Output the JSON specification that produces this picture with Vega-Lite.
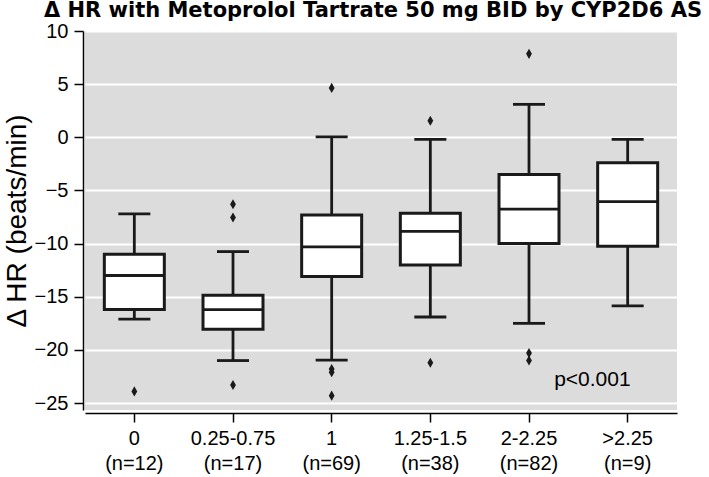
{
  "$schema": "https://vega.github.io/schema/vega-lite/v6.json",
  "autosize": "none",
  "width": 592,
  "height": 379,
  "padding": {"left": 85, "top": 31, "right": 32, "bottom": 67},
  "background": "white",
  "config": {
    "font": "Liberation Sans",
    "view": {"fill": "#dcdcdc", "stroke": null}
  },
  "title": {
    "text": "Δ HR with Metoprolol Tartrate 50 mg BID by CYP2D6 AS",
    "font": "DejaVu Sans",
    "fontSize": 21,
    "fontWeight": "bold",
    "color": "#000000",
    "anchor": "middle",
    "dx": -8,
    "dy": 4,
    "offset": 4
  },
  "datasets": {
    "boxes": [
      {"group": "0 (n=12)", "lower": -17.1, "q1": -16.2, "median": -13.0, "q3": -11.0, "upper": -7.2},
      {"group": "0.25-0.75 (n=17)", "lower": -21.0, "q1": -18.05, "median": -16.2, "q3": -14.85, "upper": -10.75},
      {"group": "1 (n=69)", "lower": -20.95, "q1": -13.1, "median": -10.3, "q3": -7.3, "upper": 0.05},
      {"group": "1.25-1.5 (n=38)", "lower": -16.9, "q1": -12.0, "median": -8.85, "q3": -7.15, "upper": -0.2},
      {"group": "2-2.25 (n=82)", "lower": -17.5, "q1": -10.0, "median": -6.75, "q3": -3.5, "upper": 3.1},
      {"group": ">2.25 (n=9)", "lower": -15.85, "q1": -10.25, "median": -6.05, "q3": -2.4, "upper": -0.2}
    ],
    "outliers": [
      {"group": "0 (n=12)", "value": -23.9},
      {"group": "0.25-0.75 (n=17)", "value": -6.3},
      {"group": "0.25-0.75 (n=17)", "value": -7.55},
      {"group": "0.25-0.75 (n=17)", "value": -23.3},
      {"group": "1 (n=69)", "value": 4.65},
      {"group": "1 (n=69)", "value": -21.8},
      {"group": "1 (n=69)", "value": -22.1},
      {"group": "1 (n=69)", "value": -24.3},
      {"group": "1.25-1.5 (n=38)", "value": 1.55},
      {"group": "1.25-1.5 (n=38)", "value": -21.2},
      {"group": "2-2.25 (n=82)", "value": 7.85},
      {"group": "2-2.25 (n=82)", "value": -20.3},
      {"group": "2-2.25 (n=82)", "value": -21.0}
    ],
    "annot": [
      {"group": ">2.25 (n=9)", "value": -22.83, "label": "p<0.001"}
    ]
  },
  "encoding": {
    "x": {
      "field": "group",
      "type": "nominal",
      "sort": ["0 (n=12)", "0.25-0.75 (n=17)", "1 (n=69)", "1.25-1.5 (n=38)", "2-2.25 (n=82)", ">2.25 (n=9)"],
      "scale": {"paddingInner": 0, "paddingOuter": 0},
      "axis": {
        "title": null,
        "labelAngle": 0,
        "labelFontSize": 20,
        "labelColor": "#000000",
        "labelExpr": "split(datum.label, ' ')",
        "labelLineHeight": 25,
        "labelPadding": 6,
        "tickSize": 9,
        "tickColor": "#000000",
        "tickWidth": 1.5,
        "domainColor": "#000000",
        "domainWidth": 1.5,
        "offset": 3,
        "grid": false
      }
    }
  },
  "layer": [
    {
      "data": {"name": "boxes"},
      "mark": {"type": "rule", "color": "#1a1a1a", "strokeWidth": 2.8},
      "encoding": {
        "y": {
          "field": "lower",
          "type": "quantitative",
          "scale": {"domain": [-25.65, 10], "nice": false, "zero": false},
          "axis": {
            "title": "Δ HR (beats/min)",
            "titleFontSize": 28,
            "titleFontWeight": "normal",
            "titleColor": "#000000",
            "titlePadding": 3,
            "values": [-25, -20, -15, -10, -5, 0, 5, 10],
            "labelFontSize": 20,
            "labelColor": "#000000",
            "labelPadding": 6,
            "tickSize": 9,
            "tickColor": "#000000",
            "tickWidth": 1.5,
            "domainColor": "#000000",
            "domainWidth": 1.5,
            "offset": 2,
            "grid": true,
            "gridColor": "#ffffff",
            "gridWidth": 2
          }
        },
        "y2": {"field": "upper"}
      }
    },
    {
      "data": {"name": "boxes"},
      "mark": {"type": "tick", "color": "#1a1a1a", "opacity": 1, "size": 32, "thickness": 2.8},
      "encoding": {"y": {"field": "lower", "type": "quantitative"}}
    },
    {
      "data": {"name": "boxes"},
      "mark": {"type": "tick", "color": "#1a1a1a", "opacity": 1, "size": 32, "thickness": 2.8},
      "encoding": {"y": {"field": "upper", "type": "quantitative"}}
    },
    {
      "data": {"name": "boxes"},
      "mark": {"type": "bar", "size": 60, "fill": "#ffffff", "opacity": 1, "stroke": "#1a1a1a", "strokeWidth": 3},
      "encoding": {
        "y": {"field": "q1", "type": "quantitative"},
        "y2": {"field": "q3"}
      }
    },
    {
      "data": {"name": "boxes"},
      "mark": {"type": "tick", "color": "#1a1a1a", "opacity": 1, "size": 59, "thickness": 2.8},
      "encoding": {"y": {"field": "median", "type": "quantitative"}}
    },
    {
      "data": {"name": "outliers"},
      "mark": {"type": "point", "shape": "M0,-1.3L0.75,0L0,1.3L-0.75,0Z", "filled": true, "color": "#1a1a1a", "size": 60, "opacity": 1},
      "encoding": {"y": {"field": "value", "type": "quantitative"}}
    },
    {
      "data": {"name": "annot"},
      "mark": {"type": "text", "align": "right", "baseline": "middle", "fontSize": 21, "color": "#000000", "dx": 3},
      "encoding": {
        "y": {"field": "value", "type": "quantitative"},
        "text": {"field": "label"}
      }
    }
  ]
}
